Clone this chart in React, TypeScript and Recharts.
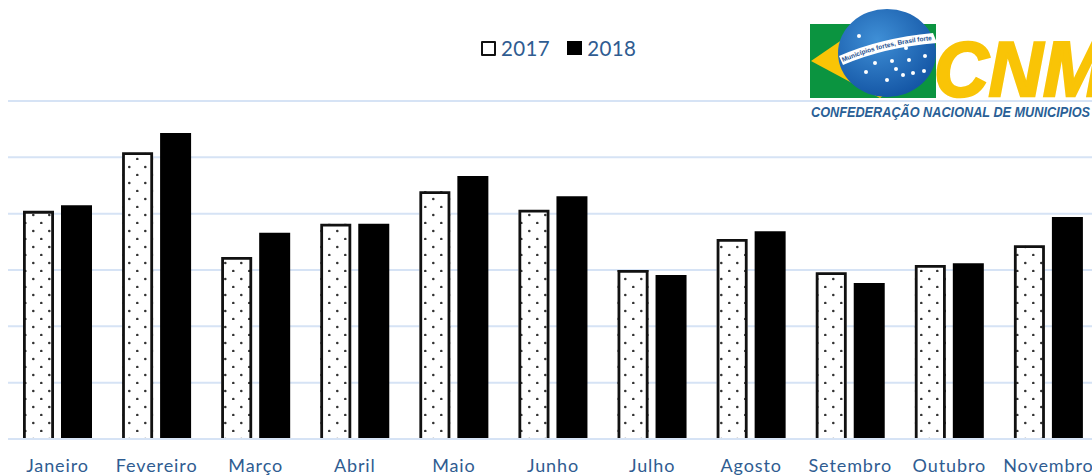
import { BarChart, Bar, XAxis, YAxis, CartesianGrid, Legend } from "recharts";

const MONTHS = [
  "Janeiro",
  "Fevereiro",
  "Março",
  "Abril",
  "Maio",
  "Junho",
  "Julho",
  "Agosto",
  "Setembro",
  "Outubro",
  "Novembro",
];
const VALUES_2017 = [4.05, 5.09, 3.23, 3.82, 4.4, 4.07, 3.0, 3.55, 2.96, 3.09, 3.44];
const VALUES_2018 = [4.15, 5.43, 3.66, 3.82, 4.67, 4.31, 2.91, 3.69, 2.77, 3.12, 3.94];
const Y_TICKS = [0, 1, 2, 3, 4, 5, 6];

const data = MONTHS.map((month, i) => ({
  month,
  y2017: VALUES_2017[i],
  y2018: VALUES_2018[i],
}));

const TEXT_COLOR = "#2f5c91";
const GRID_COLOR = "#d6e3f5";
const FONT = "Lato, 'Open Sans', sans-serif";

// pontilhado: contorno só em três lados, a base fica aberta como no original
function DottedBar(props: any) {
  const { x, y, width, height } = props;
  return (
    <g>
      <rect x={x} y={y} width={width} height={height} fill="url(#dots)" />
      <path
        d={`M${x + 1.4} ${y + height} V${y + 1.4} H${x + width - 1.4} V${y + height}`}
        fill="none"
        stroke="#111"
        strokeWidth={2.8}
      />
    </g>
  );
}

function LegendContent() {
  return (
    <div
      style={{
        display: "flex",
        alignItems: "center",
        height: 26,
        fontFamily: FONT,
        fontSize: 20.5,
        color: TEXT_COLOR,
        letterSpacing: 0.4,
      }}
    >
      <span
        style={{
          width: 11,
          height: 11,
          border: "2.5px solid #111",
          borderRadius: 1,
          marginRight: 5,
          background: "#fff",
        }}
      />
      <span style={{ marginRight: 17 }}>2017</span>
      <span style={{ width: 15, height: 14, background: "#000", marginRight: 5 }} />
      <span>2018</span>
    </div>
  );
}

function Logo() {
  return (
    <svg
      width={1092}
      height={475}
      style={{ position: "absolute", left: 0, top: 0, pointerEvents: "none" }}
    >
      <defs>
        <radialGradient id="globe" cx="40%" cy="35%" r="75%">
          <stop offset="0%" stopColor="#3f8fd6" />
          <stop offset="100%" stopColor="#0f4f9f" />
        </radialGradient>
      </defs>
      <rect x={810} y={24} width={126} height={74} fill="#0b9440" />
      <polygon points="811,61 868,22 930,60 880,98" fill="#f9c406" />
      <ellipse cx={887} cy={53} rx={49} ry={44} fill="url(#globe)" />
      <path d="M839 56 Q880 38 933 33 L937 43 Q885 47 843 65 Z" fill="#fff" />
      <path id="bannerPath" d="M843 62 Q885 44 935 40" fill="none" />
      <text fontFamily="'Liberation Sans', sans-serif" fontSize={6.5} fontWeight={700} fill="#1d4f8f">
        <textPath href="#bannerPath">Municípios fortes, Brasil forte</textPath>
      </text>
      {[
        [859, 36],
        [906, 48],
        [925, 56],
        [875, 63],
        [892, 61],
        [909, 60],
        [866, 72],
        [896, 69],
        [903, 75],
        [913, 73],
        [924, 71],
        [887, 80],
      ].map(([cx, cy]) => (
        <circle key={`${cx}-${cy}`} cx={cx} cy={cy} r={2} fill="#fff" />
      ))}
      <text
        x={934}
        y={96}
        fontFamily="'Liberation Sans', sans-serif"
        fontSize={77}
        fontWeight={700}
        fontStyle="italic"
        fill="#f9c406"
        stroke="#f9c406"
        strokeWidth={2.5}
        textLength={172}
        lengthAdjust="spacingAndGlyphs"
      >
        CNM
      </text>
      <text
        x={811}
        y={117}
        fontFamily="'Liberation Sans', sans-serif"
        fontSize={14.5}
        fontWeight={700}
        fontStyle="italic"
        fill="#2a5f96"
        textLength={279}
        lengthAdjust="spacingAndGlyphs"
      >
        CONFEDERAÇÃO NACIONAL DE MUNICIPIOS
      </text>
    </svg>
  );
}

export default function App() {
  return (
    <div
      style={{
        position: "absolute",
        left: 0,
        top: 0,
        width: 1092,
        height: 475,
        overflow: "hidden",
        background: "#fff",
      }}
    >
      <BarChart
        width={1110}
        height={475}
        data={data}
        margin={{ top: 75, right: 12, bottom: 0, left: 8 }}
        barSize={31}
        barGap={7}
      >
        <defs>
          <pattern id="dots" width={16} height={16} patternUnits="userSpaceOnUse">
            <rect width={16} height={16} fill="#fff" />
            <circle cx={1.3} cy={7} r={1.3} fill="#333" />
            <circle cx={9.3} cy={15} r={1.3} fill="#333" />
          </pattern>
        </defs>
        <CartesianGrid horizontal vertical={false} stroke={GRID_COLOR} strokeWidth={2} />
        <XAxis
          dataKey="month"
          axisLine={{ stroke: GRID_COLOR, strokeWidth: 2 }}
          tickLine={false}
          height={36}
          interval={0}
          tickMargin={14}
          tick={{ fontFamily: FONT, fontSize: 18, fill: TEXT_COLOR, letterSpacing: 0.9 }}
        />
        <YAxis hide domain={[0, 6]} ticks={Y_TICKS} />
        <Legend
          content={<LegendContent />}
          verticalAlign="top"
          wrapperStyle={{ position: "absolute", left: 481, top: 35, width: "auto", height: 26 }}
        />
        <Bar dataKey="y2017" shape={DottedBar} isAnimationActive={false} />
        <Bar dataKey="y2018" fill="#000" isAnimationActive={false} />
      </BarChart>
      <Logo />
    </div>
  );
}
